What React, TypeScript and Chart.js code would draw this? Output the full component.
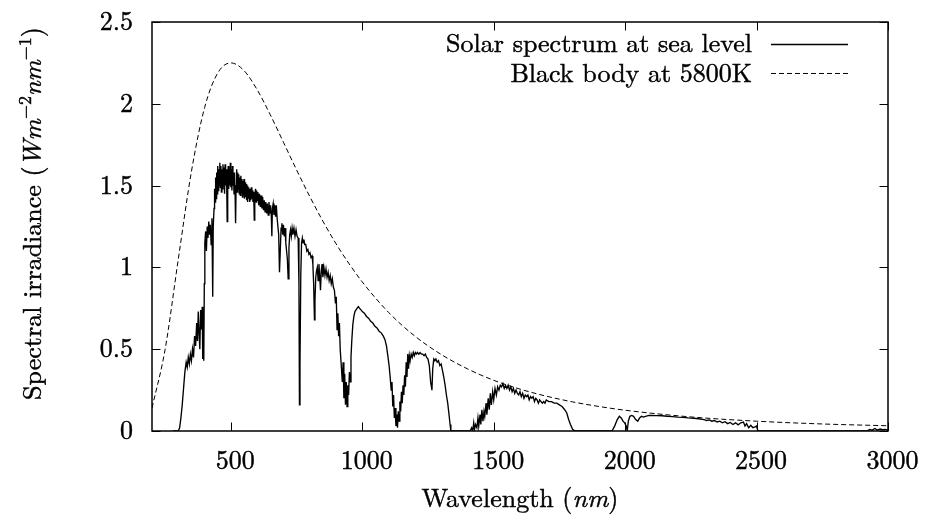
import React, { useEffect, useRef } from "react";
import { Chart, registerables } from "chart.js";

Chart.register(...registerables);

// Axis ticks
const xTickValues = [500, 1000, 1500, 2000, 2500, 3000];
const yTickValues = [0, 0.5, 1, 1.5, 2, 2.5];

// Legend labels
const solarLabel = "Solar spectrum at sea level";
const blackBodyLabel = "Black body at 5800K";

// Black body curve at 5800K: [wavelength nm, W m^-2 nm^-1]
const blackBody: [number, number][] = [
  [200, 0.14], [250, 0.5], [300, 1.05], [350, 1.586], [400, 1.976], [450, 2.188],
  [500, 2.25], [550, 2.203], [600, 2.086], [650, 1.933], [700, 1.765], [750, 1.596],
  [800, 1.434], [850, 1.283], [900, 1.145], [950, 1.022], [1000, 0.911], [1100, 0.725],
  [1200, 0.58], [1300, 0.468], [1400, 0.38], [1500, 0.31], [1600, 0.256], [1700, 0.213],
  [1800, 0.178], [1900, 0.15], [2000, 0.127], [2250, 0.086], [2500, 0.06], [2750, 0.043],
  [3000, 0.032],
];

// Solar spectral irradiance at sea level: [wavelength nm, W m^-2 nm^-1]
const solarSpectrum: [number, number][] = [
  [280, 0], [300, 0], [305, 0.02], [310, 0.08], [315, 0.16], [320, 0.26], [325, 0.36],
  [330, 0.42], [334, 0.39], [338, 0.45], [342, 0.41], [346, 0.47], [350, 0.43], [354, 0.5],
  [358, 0.45], [362, 0.58], [366, 0.52], [370, 0.66], [373, 0.55], [376, 0.73], [379, 0.6],
  [382, 0.5], [385, 0.74], [388, 0.62], [391, 0.76], [393, 0.44], [395, 0.7], [397, 0.43],
  [399, 0.9], [401, 1.15], [404, 1.22], [407, 1.1], [410, 1.25], [413, 1.18], [416, 1.28],
  [419, 1.2], [422, 1.26], [425, 1.14], [428, 1.3], [431, 0.82], [433, 1.25], [436, 1.36],
  [438, 1.48], [440, 1.4], [442, 1.55], [444, 1.42], [446, 1.58], [448, 1.45], [450, 1.62],
  [452, 1.47], [454, 1.6], [456, 1.5], [458, 1.64], [460, 1.49], [462, 1.62], [464, 1.46],
  [466, 1.6], [468, 1.48], [470, 1.63], [472, 1.5], [474, 1.61], [476, 1.45], [478, 1.63],
  [480, 1.5], [482, 1.6], [484, 1.52], [486, 1.28], [488, 1.55], [490, 1.62], [492, 1.48],
  [494, 1.6], [496, 1.5], [498, 1.64], [500, 1.49], [502, 1.6], [504, 1.47], [506, 1.62],
  [508, 1.5], [510, 1.58], [512, 1.45], [514, 1.58], [516, 1.46], [518, 1.27], [520, 1.5],
  [522, 1.6], [524, 1.46], [526, 1.58], [528, 1.48], [530, 1.57], [532, 1.45], [534, 1.55],
  [536, 1.44], [538, 1.56], [540, 1.46], [542, 1.54], [544, 1.43], [546, 1.53], [548, 1.44],
  [550, 1.54], [552, 1.42], [554, 1.52], [556, 1.43], [558, 1.51], [560, 1.41], [562, 1.5],
  [564, 1.4], [566, 1.49], [568, 1.42], [570, 1.48], [572, 1.4], [574, 1.48], [576, 1.41],
  [578, 1.49], [580, 1.42], [582, 1.47], [584, 1.4], [586, 1.46], [588, 1.38], [589, 1.29],
  [591, 1.44], [594, 1.48], [596, 1.4], [598, 1.47], [600, 1.41],
  [603, 1.46], [606, 1.38], [609, 1.45], [612, 1.37], [615, 1.44], [618, 1.36], [621, 1.43],
  [624, 1.35], [627, 1.41], [630, 1.34], [633, 1.4], [636, 1.33], [639, 1.39], [642, 1.32],
  [645, 1.4], [648, 1.33], [651, 1.38], [654, 1.31], [656, 1.19], [658, 1.36], [661, 1.39],
  [664, 1.32], [667, 1.38], [670, 1.31], [673, 1.38], [676, 1.3], [679, 1.3], [682, 1.2],
  [685, 0.97], [688, 1.1], [691, 1.24], [694, 1.27], [697, 1.2], [700, 1.26], [703, 1.19],
  [706, 1.24], [709, 1.15], [712, 1.1], [715, 1.05], [718, 0.93], [721, 1.12], [724, 1.2],
  [727, 1.23], [730, 1.19], [733, 1.24], [736, 1.2], [740, 1.24], [744, 1.19], [748, 1.23],
  [752, 1.19], [756, 1.18], [759, 0.9], [761, 0.16], [763, 0.4], [766, 0.95], [769, 1.15],
  [772, 1.18], [775, 1.15], [778, 1.17], [781, 1.14], [785, 1.14], [789, 1.1], [793, 1.11],
  [797, 1.08], [801, 1.09], [805, 1.06], [809, 1.07], [812, 1.02], [815, 0.9], [818, 0.68],
  [820, 0.8], [823, 0.94], [826, 0.98], [829, 1.0], [832, 0.92], [835, 1.02], [838, 0.95],
  [841, 0.86], [844, 0.98], [847, 1.02], [850, 0.94], [854, 1.0], [858, 0.95], [862, 0.99],
  [866, 0.94], [870, 0.97], [874, 0.92], [878, 0.95], [882, 0.9], [886, 0.93], [890, 0.88],
  [894, 0.86], [898, 0.78], [901, 0.82], [904, 0.62], [907, 0.72], [910, 0.58], [913, 0.66],
  [916, 0.5], [920, 0.4], [924, 0.3], [927, 0.42], [930, 0.2], [933, 0.35], [936, 0.16],
  [939, 0.3], [942, 0.15], [945, 0.28], [948, 0.22], [951, 0.36], [954, 0.3], [957, 0.45],
  [960, 0.55], [964, 0.65], [968, 0.7], [972, 0.73], [976, 0.74], [980, 0.75], [985, 0.76],
  [990, 0.75], [995, 0.74], [1000, 0.73], [1008, 0.72], [1016, 0.7], [1024, 0.69],
  [1032, 0.67], [1040, 0.66], [1048, 0.64], [1056, 0.63], [1064, 0.61], [1072, 0.6],
  [1080, 0.58], [1086, 0.56], [1092, 0.52], [1098, 0.45], [1102, 0.4], [1106, 0.33],
  [1110, 0.25], [1113, 0.3], [1116, 0.15], [1119, 0.22], [1122, 0.08], [1125, 0.14],
  [1128, 0.03], [1131, 0.1], [1134, 0.02], [1137, 0.12], [1140, 0.06], [1143, 0.18],
  [1146, 0.12], [1149, 0.24], [1152, 0.17], [1155, 0.28], [1158, 0.22], [1161, 0.34],
  [1164, 0.27], [1167, 0.42], [1170, 0.33], [1173, 0.47], [1176, 0.38], [1179, 0.46],
  [1182, 0.43], [1186, 0.47], [1190, 0.45], [1194, 0.48], [1198, 0.46], [1202, 0.48],
  [1206, 0.47], [1210, 0.48], [1215, 0.47], [1220, 0.48], [1225, 0.47], [1230, 0.47],
  [1235, 0.46], [1240, 0.47], [1245, 0.45], [1250, 0.44], [1255, 0.4], [1260, 0.3],
  [1265, 0.25], [1268, 0.38], [1272, 0.44], [1276, 0.43], [1280, 0.44], [1285, 0.42],
  [1290, 0.43], [1295, 0.4], [1300, 0.41], [1305, 0.37], [1310, 0.33], [1315, 0.28],
  [1320, 0.22], [1325, 0.17], [1330, 0.1], [1334, 0.04], [1337, 0], [1410, 0],
  [1416, 0.02], [1420, 0], [1424, 0.05], [1427, 0.01], [1431, 0.04], [1436, 0.02],
  [1440, 0.08], [1443, 0.03], [1448, 0.1], [1451, 0.04], [1455, 0.13], [1459, 0.06],
  [1463, 0.12], [1466, 0.09], [1471, 0.17], [1474, 0.1], [1479, 0.2], [1483, 0.13],
  [1487, 0.23], [1491, 0.16], [1496, 0.24], [1500, 0.19], [1505, 0.26], [1510, 0.22],
  [1515, 0.27], [1520, 0.25], [1525, 0.28], [1530, 0.27], [1535, 0.29], [1540, 0.26],
  [1545, 0.28], [1550, 0.26], [1555, 0.28], [1560, 0.25], [1565, 0.27], [1570, 0.24],
  [1575, 0.26], [1580, 0.23], [1585, 0.25], [1590, 0.23], [1595, 0.22], [1600, 0.24],
  [1605, 0.21], [1610, 0.23], [1615, 0.2], [1620, 0.22], [1625, 0.21], [1630, 0.22],
  [1635, 0.19], [1640, 0.21], [1645, 0.2], [1650, 0.21], [1655, 0.18], [1660, 0.2],
  [1665, 0.19], [1670, 0.17], [1675, 0.19], [1680, 0.18], [1685, 0.17], [1690, 0.18],
  [1695, 0.17], [1700, 0.19], [1710, 0.18], [1720, 0.18], [1730, 0.17], [1740, 0.17],
  [1750, 0.16], [1760, 0.15], [1770, 0.13], [1778, 0.11], [1785, 0.07], [1792, 0.04],
  [1800, 0.01], [1810, 0], [1950, 0], [1960, 0.03], [1970, 0.07], [1978, 0.09],
  [1985, 0.08], [1992, 0.06], [1998, 0.05], [2004, 0.03], [2008, 0], [2012, 0.06],
  [2018, 0.09], [2025, 0.095], [2032, 0.09], [2040, 0.07], [2048, 0.06], [2055, 0.08],
  [2062, 0.09], [2070, 0.085], [2078, 0.09], [2090, 0.095], [2100, 0.095], [2120, 0.094],
  [2140, 0.093], [2160, 0.09], [2180, 0.088], [2200, 0.085], [2220, 0.083], [2240, 0.08],
  [2260, 0.078], [2280, 0.075], [2300, 0.07], [2310, 0.064], [2320, 0.068], [2330, 0.06],
  [2340, 0.064], [2350, 0.055], [2360, 0.06], [2370, 0.05], [2380, 0.057], [2390, 0.045],
  [2400, 0.052], [2410, 0.04], [2420, 0.05], [2430, 0.038], [2440, 0.05], [2450, 0.055],
  [2456, 0.03], [2462, 0.045], [2470, 0.02], [2478, 0.035], [2486, 0.02], [2494, 0.025],
  [2500, 0.03], [2505, 0], [2920, 0], [2930, 0.01], [2940, 0.005], [2950, 0.015],
  [2960, 0.005], [2970, 0.012], [2980, 0.008], [2990, 0.01], [3000, 0.005],
];

const SERIF = "'Latin Modern Roman', 'Liberation Serif', serif";
const FONT_SIZE = 26;
const TEXT_STROKE = 0.45;

type Part = { text: string; italic?: boolean; sup?: boolean };

function partFont(p: Part, size: number) {
  const s = p.sup ? Math.round(size * 0.7) : size;
  return `${p.italic ? "italic " : ""}${s}px ${SERIF}`;
}

function fillStroke(ctx: CanvasRenderingContext2D, text: string, x: number, y: number) {
  ctx.fillText(text, x, y);
  ctx.lineWidth = TEXT_STROKE;
  ctx.strokeText(text, x, y);
}

// Draws a run of mixed italic / superscript text centred on (0, 0) of the current transform.
function drawRich(ctx: CanvasRenderingContext2D, parts: Part[], size: number) {
  let total = 0;
  const widths = parts.map((p) => {
    ctx.font = partFont(p, size);
    const w = ctx.measureText(p.text).width;
    total += w;
    return w;
  });
  let x = -total / 2;
  ctx.textAlign = "left";
  ctx.textBaseline = "alphabetic";
  parts.forEach((p, i) => {
    ctx.font = partFont(p, size);
    fillStroke(ctx, p.text, x, p.sup ? -size * 0.4 : 0);
    x += widths[i];
  });
}

const xTitle: Part[] = [{ text: "Wavelength (" }, { text: "nm", italic: true }, { text: ")" }];
const yTitle: Part[] = [
  { text: "Spectral irradiance (" },
  { text: "Wm", italic: true },
  { text: "\u22122", sup: true },
  { text: "nm", italic: true },
  { text: "\u22121", sup: true },
  { text: ")" },
];

const framePlugin = {
  id: "gnuplotFrame",
  afterDraw(chart: any) {
    const { ctx, chartArea: a, scales } = chart;
    const xs = scales.x;
    const ys = scales.y;
    const tick = 8.5;
    ctx.save();
    ctx.strokeStyle = "#000";
    ctx.fillStyle = "#000";
    ctx.setLineDash([]);

    // inward tick marks, mirrored on all four sides
    ctx.lineWidth = 1;
    ctx.beginPath();
    xTickValues.forEach((v) => {
      const px = Math.round(xs.getPixelForValue(v)) + 0.5;
      ctx.moveTo(px, a.bottom);
      ctx.lineTo(px, a.bottom - tick);
      ctx.moveTo(px, a.top);
      ctx.lineTo(px, a.top + tick);
    });
    yTickValues.forEach((v) => {
      const py = Math.round(ys.getPixelForValue(v)) + 0.5;
      ctx.moveTo(a.left, py);
      ctx.lineTo(a.left + tick, py);
      ctx.moveTo(a.right, py);
      ctx.lineTo(a.right - tick, py);
    });
    ctx.stroke();

    // plot border
    ctx.lineWidth = 1.5;
    ctx.strokeRect(a.left, a.top, a.right - a.left, a.bottom - a.top);

    // legend, top right inside the frame
    const legendTextRight = a.right - 136;
    const sampleL = a.right - 117;
    const sampleR = a.right - 40;
    ctx.font = `${FONT_SIZE}px ${SERIF}`;
    ctx.textAlign = "right";
    ctx.textBaseline = "alphabetic";
    fillStroke(ctx, solarLabel, legendTextRight, a.top + 30);
    fillStroke(ctx, blackBodyLabel, legendTextRight, a.top + 60);
    ctx.lineWidth = 1.3;
    ctx.beginPath();
    ctx.moveTo(sampleL, a.top + 22.5);
    ctx.lineTo(sampleR, a.top + 22.5);
    ctx.stroke();
    ctx.lineWidth = 1;
    ctx.setLineDash([5, 3]);
    ctx.beginPath();
    ctx.moveTo(sampleL, a.top + 51.5);
    ctx.lineTo(sampleR, a.top + 51.5);
    ctx.stroke();
    ctx.setLineDash([]);

    // axis titles
    ctx.save();
    ctx.translate((a.left + a.right) / 2, 507);
    drawRich(ctx, xTitle, FONT_SIZE);
    ctx.restore();

    ctx.save();
    ctx.translate(41, (a.top + a.bottom) / 2 - 13);
    ctx.rotate(-Math.PI / 2);
    drawRich(ctx, yTitle, FONT_SIZE);
    ctx.restore();

    ctx.restore();
  },
};

export default function App() {
  const canvasRef = useRef<HTMLCanvasElement | null>(null);

  useEffect(() => {
    const canvas = canvasRef.current;
    if (!canvas) return;
    const chart = new Chart(canvas, {
      type: "line",
      data: {
        datasets: [
          {
            label: solarLabel,
            data: solarSpectrum.map(([x, y]) => ({ x, y })),
            borderColor: "#000",
            borderWidth: 1.35,
            pointRadius: 0,
            tension: 0,
            fill: false,
          },
          {
            label: blackBodyLabel,
            data: blackBody.map(([x, y]) => ({ x, y })),
            borderColor: "#000",
            borderWidth: 1,
            borderDash: [5, 3],
            pointRadius: 0,
            cubicInterpolationMode: "monotone",
            fill: false,
          },
        ],
      },
      options: {
        animation: false,
        responsive: false,
        devicePixelRatio: 1,
        layout: { padding: { left: 0, top: 22, right: 41, bottom: 0 } },
        plugins: {
          legend: { display: false },
          tooltip: { enabled: false },
        },
        scales: {
          x: {
            type: "linear",
            min: 200,
            max: 3000,
            grid: { display: false, drawTicks: false },
            border: { display: false },
            afterBuildTicks: (scale: any) => {
              scale.ticks = xTickValues.map((value) => ({ value }));
            },
            afterFit: (scale: any) => {
              scale.height = 90;
              scale.paddingLeft = 0;
              scale.paddingRight = 0;
            },
            ticks: {
              color: "#000",
              font: { family: SERIF, size: FONT_SIZE },
              textStrokeColor: "#000",
              textStrokeWidth: TEXT_STROKE,
              padding: 14,
              labelOffset: 4.5,
              maxRotation: 0,
              autoSkip: false,
              callback: (value: any) => String(value),
            },
          },
          y: {
            type: "linear",
            min: 0,
            max: 2.5,
            grid: { display: false, drawTicks: false },
            border: { display: false },
            afterBuildTicks: (scale: any) => {
              scale.ticks = yTickValues.map((value) => ({ value }));
            },
            afterFit: (scale: any) => {
              scale.width = 152;
              scale.paddingTop = 0;
              scale.paddingBottom = 0;
            },
            ticks: {
              color: "#000",
              font: { family: SERIF, size: FONT_SIZE },
              textStrokeColor: "#000",
              textStrokeWidth: TEXT_STROKE,
              padding: 19,
              autoSkip: false,
              callback: (value: any) => String(value),
            },
          },
        },
      },
      plugins: [framePlugin],
    });
    return () => chart.destroy();
  }, []);

  return (
    <div style={{ position: "absolute", left: 0, top: 0, width: 929, height: 521, background: "#fff" }}>
      <canvas ref={canvasRef} width={929} height={521} />
    </div>
  );
}
